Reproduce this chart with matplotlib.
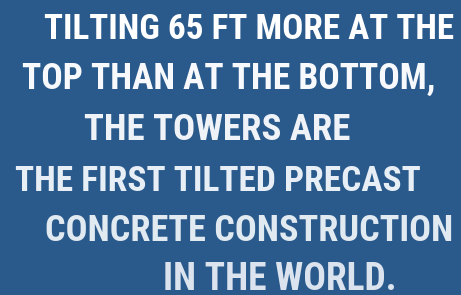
import matplotlib.pyplot as plt

# text lines and their placement (left/right x, baseline y in pixels from top)
lines = [
    "TILTING 65 FT MORE AT THE",
    "TOP THAN AT THE BOTTOM,",
    "THE TOWERS ARE",
    "THE FIRST TILTED PRECAST",
    "CONCRETE CONSTRUCTION",
    "IN THE WORLD.",
]
left_px = [44, 22, 84, 15, 45, 163]
right_px = [454, 437, 351, 421, 453, 397]
base_px = [39, 89, 140, 191, 241, 290]
colors = ["#ffffff", "#f7f9fc", "#eff3f8", "#e8eef5", "#e1e9f1", "#dbe4ee"]

W, H = 461, 295
fig = plt.figure(figsize=(W / 100, H / 100), dpi=100)
fig.patch.set_facecolor("#2a5a8c")
renderer = fig.canvas.get_renderer()

for txt, x0, x1, y, c in zip(lines, left_px, right_px, base_px, colors):
    t = fig.text(x0 / W, 1 - y / H, txt, fontsize=27, fontweight="bold",
                 family=["Roboto Condensed", "DejaVu Sans"], color=c,
                 ha="left", va="baseline")
    # scale the size so the line spans the same width as in the picture
    w = t.get_window_extent(renderer).width
    t.set_fontsize(27 * (x1 - x0) / w)

fig.savefig("out.png", dpi=100, facecolor=fig.get_facecolor())
